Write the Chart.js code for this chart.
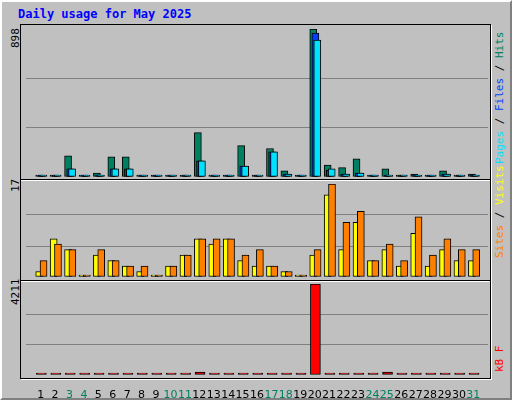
<!DOCTYPE html>
<html><head><meta charset="utf-8">
<script src="https://cdn.jsdelivr.net/npm/chart.js@4"></script>
<style>
body{margin:0;width:512px;height:400px;background:#c0c0c0;position:relative;overflow:hidden;font-family:"DejaVu Sans Mono",monospace}
#outer{position:absolute;left:0;top:0;width:508px;height:396px;border-top:2px solid #fff;border-left:2px solid #fff;border-right:2px solid #808080;border-bottom:2px solid #808080;box-sizing:content-box}
.frame{position:absolute;left:20px;width:469px;border:1px solid #000;box-shadow:1px 1px 0 #fff}
canvas{position:absolute}
.lbl{position:absolute;transform-origin:left top;transform:rotate(-90deg);font-size:11px;white-space:nowrap}
#title{position:absolute;left:18px;top:7px;color:#0000ff;font-weight:bold;font-size:12px}
</style></head><body>
<div id="outer"></div>
<div id="title">Daily usage for May 2025</div>
<div class="frame" style="top:24px;height:154px"></div>
<div class="frame" style="top:179px;height:100px"></div>
<div class="frame" style="top:280px;height:97px"></div>
<div class="lbl" style="left:9px;top:48px">898</div>
<div class="lbl" style="left:9px;top:192px">17</div>
<div class="lbl" style="left:9px;top:305px">4211</div>
<div class="lbl" style="left:493px;top:164px"><span style="color:#00e0ff">Pages</span> / <span style="color:#0040ff">Files</span> / <span style="color:#008060">Hits</span></div>
<div class="lbl" style="left:493px;top:258px"><span style="color:#ff8000">Sites</span> / <span style="color:#ffff00">Visits</span></div>
<div class="lbl" style="left:493px;top:372px;color:#ff0000">kB F</div>
<canvas id="c1" style="left:26px;top:29px;width:462px;height:148px"></canvas>
<canvas id="c2" style="left:26px;top:184px;width:462px;height:93px"></canvas>
<canvas id="c3" style="left:26px;top:284px;width:462px;height:116px"></canvas>
<script>
const days = Array.from({length: 31}, (_, i) => i + 1);
const weekendDays = [3, 4, 10, 11, 17, 18, 24, 25, 31];
const hits  = [3,12,128,0,24,122,122,3,0,3,10,269,10,10,190,10,173,37,0,898,73,57,110,10,49,3,18,3,37,10,18];
const files = [1,10,49,0,3,49,49,1,0,1,3,98,10,10,67,3,153,18,0,874,40,18,24,10,10,1,10,1,18,3,10];
const pages = [1,10,49,0,3,49,49,1,0,1,3,98,10,10,67,3,153,18,0,831,49,18,24,10,10,1,10,1,18,3,10];
const visits = [1,7,5,0,4,3,2,1,0,2,4,7,6,7,3,2,2,1,0,4,15,5,10,3,5,2,8,2,5,3,3];
const sites  = [3,6,5,0,5,3,2,2,0,2,4,7,7,7,4,5,2,1,0,5,17,10,12,3,6,3,11,4,7,5,5];
const kbytes = [30,30,92,0,30,77,77,30,0,30,30,139,30,30,77,30,77,30,0,4211,77,30,77,30,139,30,77,30,30,30,30];

function series(vals, off, color, width) {
  return {
    data: vals.map((v, i) => ({x: days[i] + off, y: v})),
    backgroundColor: color, borderColor: '#000', borderWidth: 1,
    borderSkipped: false, barThickness: width, grouped: false, minBarLength: 2
  };
}
function opts(max, showX) {
  return {
    responsive: false, animation: false, devicePixelRatio: 1,
    layout: {padding: 0},
    plugins: {legend: {display: false}, tooltip: {enabled: false}},
    scales: {
      x: {type: 'linear', min: 0.5, max: 31.5, display: showX,
          grid: {display: false}, border: {display: false},
          afterFit: s => { s.height = showX ? 25 : 0; },
          afterBuildTicks: s => { s.ticks = days.map(d => ({value: d})); },
          ticks: {autoSkip: false, padding: 6, maxRotation: 0, minRotation: 0,
                  font: {family: 'DejaVu Sans', size: 11},
                  color: c => weekendDays.includes(c.tick.value) ? '#008060' : '#000'}},
      y: {min: 0, max: max, display: true,
          afterFit: s => { s.width = 0; },
          ticks: {display: false, stepSize: max / 3},
          grid: {color: c => (c.tick.value > 0 && c.tick.value < max) ? '#808080' : 'rgba(0,0,0,0)', lineWidth: 1, drawTicks: false},
          border: {display: false}}
    }
  };
}
for (const id of ['c1','c2','c3']) {
  const el = document.getElementById(id);
  el.width = parseInt(el.style.width); el.height = parseInt(el.style.height);
}
new Chart(document.getElementById('c1'), {type: 'bar', data: {datasets: [
  series(pages, 0.18, '#00e0ff', 7),
  series(files, 0.05, '#0040ff', 7),
  series(hits, -0.1, '#008060', 7)
]}, options: opts(898, false)});
new Chart(document.getElementById('c2'), {type: 'bar', data: {datasets: [
  series(sites, 0.2, '#ff8000', 7),
  series(visits, -0.1, '#ffff00', 7)
]}, options: opts(17, false)});
new Chart(document.getElementById('c3'), {type: 'bar', data: {datasets: [
  series(kbytes, 0.05, '#ff0000', 10)
]}, options: opts(4211, true)});
</script>
</body></html>
